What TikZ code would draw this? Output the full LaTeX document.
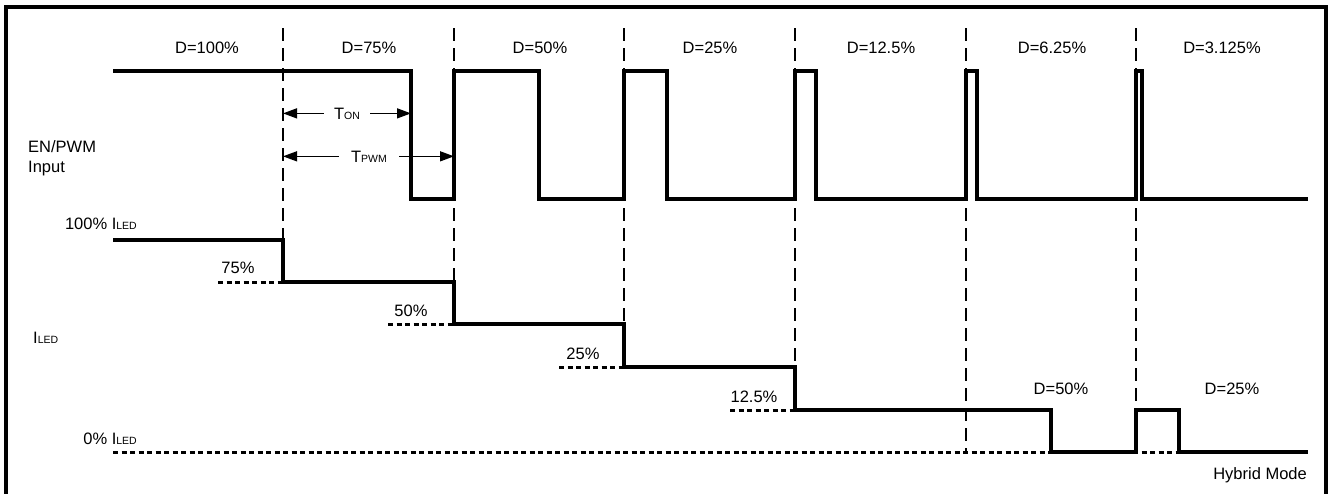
\documentclass[tikz,border=0pt]{standalone}
\usepackage{fontspec}
\setmainfont{Liberation Sans}
\usepackage{tikz}
\usetikzlibrary{positioning, calc, arrows.meta}
\newcommand{\smallsub}[1]{{\fontsize{10.5}{12}\selectfont #1}}

\begin{document}
\begin{tikzpicture}[
    x=1pt, y=-1pt,
    every node/.style={inner sep=0pt, font=\fontsize{16.5}{19}\selectfont},
    wave/.style={line width=3.2pt, line join=miter},
    level/.style={line width=3pt, dash pattern=on 5pt off 3.5pt},
    period/.style={line width=1.5pt, dash pattern=on 13pt off 7pt},
    dimarrow/.style={-{Triangle[length=14pt, width=10pt]}, line width=1.4pt},
    frame/.style={line width=3.2pt}
]
    \useasboundingbox (0,0) rectangle (1329,493);
    \draw [frame] (6,495) -- (6,7) -- (1326,7) -- (1326,495);

    % period boundaries
    \coordinate (p1) at (283,28);
    \coordinate (p2) at (454,28);
    \draw [period] (p1) -- (283,240);
    \draw [period] (p2) -- (454,282);
    \draw [period] (624,28) -- (624,324);
    \draw [period] (795,28) -- (795,367);
    \draw [period] (966,28) -- (966,452);
    \draw [period] (1136,28) -- (1136,410);

    % duty labels
    \node[anchor=base] (d100) at (207,53) {D=100\%};
    \node[anchor=base] (d75) at (369,53) {D=75\%};
    \node[anchor=base] (d50) at (540,53) {D=50\%};
    \node[anchor=base] (d25) at (710,53) {D=25\%};
    \node[anchor=base] (d125) at (881,53) {D=12.5\%};
    \node[anchor=base] (d625) at (1052,53) {D=6.25\%};
    \node[anchor=base] (d3125) at (1222,53) {D=3.125\%};

    % EN/PWM input
    \draw [wave] (113,71) -- (411,71) -- (411,199) -- (454,199) -- (454,71)
        -- (539,71) -- (539,199) -- (624,199) -- (624,71) -- (667,71)
        -- (667,199) -- (795,199) -- (795,71) -- (816,71) -- (816,199)
        -- (966,199) -- (966,71) -- (977,71) -- (977,199) -- (1136,199)
        -- (1136,71) -- (1142,71) -- (1142,199) -- (1308,199);
    \node[anchor=base west] (input) at (28,152) {EN/PWM};
    \node[anchor=base west] (input2) at (28,172) {Input};

    % on time and period
    \coordinate (fall) at (411,115);
    \node[anchor=base, inner xsep=10pt] (ton) at (347,119) {T\smallsub{ON}};
    \draw [dimarrow] (ton.west) -- (ton.west -| p1);
    \draw [dimarrow] (ton.east) -- (ton.east -| fall);
    \node[anchor=base, inner xsep=12pt] (tpwm) at (369,162) {T\smallsub{PWM}};
    \draw [dimarrow] (tpwm.west) -- (tpwm.west -| p1);
    \draw [dimarrow] (tpwm.east) -- (tpwm.east -| p2);

    % LED current
    \draw [level] (218,282) -- (283,282);
    \draw [level] (388,324) -- (454,324);
    \draw [level] (559,367) -- (624,367);
    \draw [level] (730,410) -- (795,410);
    \draw [level] (113,452) -- (1179,452);
    \draw [wave] (113,240) -- (283,240) -- (283,282) -- (454,282) -- (454,324)
        -- (624,324) -- (624,367) -- (795,367) -- (795,410) -- (1051,410)
        -- (1051,452) -- (1136,452) -- (1136,410) -- (1179,410) -- (1179,452)
        -- (1308,452);

    \node[anchor=base east] (full) at (137,229) {100\% I\smallsub{LED}};
    \node[anchor=base west] (iled) at (33,343) {I\smallsub{LED}};
    \node[anchor=base east] (zero) at (137,444) {0\% I\smallsub{LED}};
    \node[anchor=base] (l75) at (238,273) {75\%};
    \node[anchor=base] (l50) at (411,316) {50\%};
    \node[anchor=base] (l25) at (583,359) {25\%};
    \node[anchor=base] (l125) at (754,402) {12.5\%};
    \node[anchor=base] (h50) at (1061,394) {D=50\%};
    \node[anchor=base] (h25) at (1232,394) {D=25\%};
    \node[anchor=base east] (hybrid) at (1307,479) {Hybrid Mode};
\end{tikzpicture}
\end{document}
